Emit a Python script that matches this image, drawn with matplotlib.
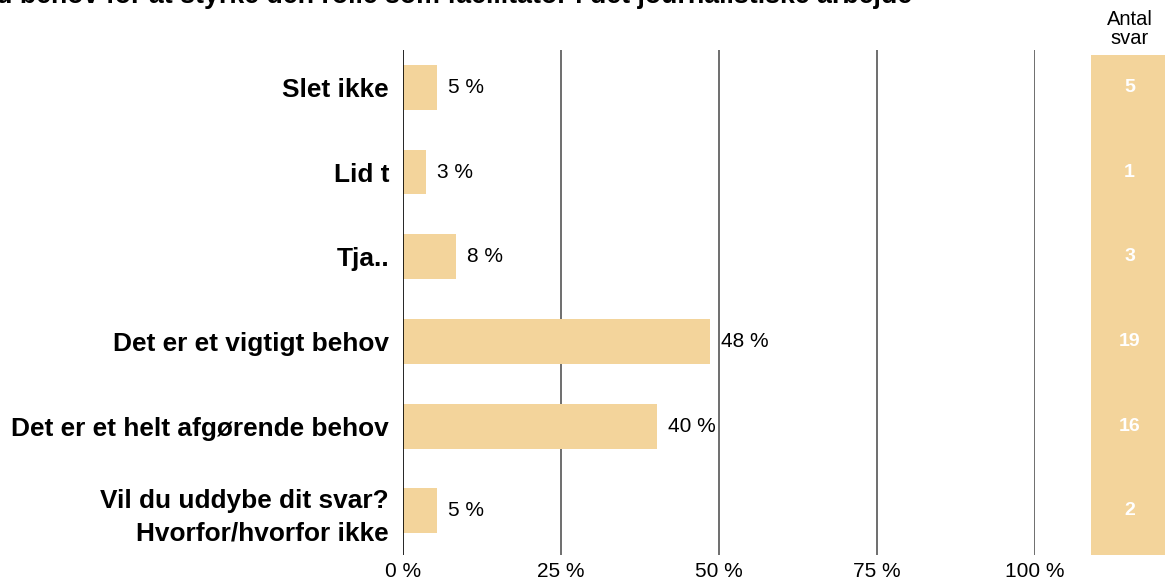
import matplotlib
matplotlib.use("Agg")
import matplotlib.pyplot as plt
from matplotlib.patches import Rectangle

categories = ["Slet ikke", "Lid t", "Tja..", "Det er et vigtigt behov",
              "Det er et helt afgørende behov",
              "Vil du uddybe dit svar?\nHvorfor/hvorfor ikke"]
values = [5.4, 3.6, 8.4, 48.6, 40.2, 5.4]
value_labels = ["5 %", "3 %", "8 %", "48 %", "40 %", "5 %"]
counts = [5, 1, 3, 19, 16, 2]
xticks = [0, 25, 50, 75, 100]
xticklabels = ["0 %", "25 %", "50 %", "75 %", "100 %"]
title = "d behov for at styrke den rolle som facilitator i det journalistiske arbejde"

W, H = 1165, 581
fig = plt.figure(figsize=(W / 100, H / 100), dpi=100)
plt.rcParams['font.family'] = ['Liberation Sans', 'DejaVu Sans']

bar_color = "#F3D49B"

def fx(px):
    return px / W

def fy(py):
    return 1 - py / H

ax_left, ax_right, ax_top, ax_bot = 403, 1035, 50, 555
ax = fig.add_axes([fx(ax_left), fy(ax_bot), fx(ax_right - ax_left), (ax_bot - ax_top) / H])
y = list(range(len(categories)))
ax.barh(y, values, height=0.53, color=bar_color, zorder=2)
ax.set_xlim(0, 100)
ax.set_ylim(5.52, -0.44)
for s in ax.spines.values():
    s.set_visible(False)
ax.axvline(0, color="black", lw=1.2, zorder=3)
for t in xticks[1:]:
    ax.axvline(t, color="#6e6e6e", lw=1.4, zorder=1)
ax.set_xticks(xticks)
ax.set_xticklabels(xticklabels, fontsize=15)
ax.tick_params(axis='x', length=0, pad=5)
ax.set_yticks(y)
ax.set_yticklabels(categories, fontsize=18.9, fontweight='bold', linespacing=1.4)
ax.tick_params(axis='y', length=0, pad=10)
for yi, v, lab in zip(y, values, value_labels):
    ax.annotate(lab, (v, yi), xytext=(8, 0), textcoords='offset points',
                va='center', ha='left', fontsize=15, zorder=4)

# Antal svar panel
ax2 = fig.add_axes([fx(1091), fy(ax_bot), fx(1165 - 1091), (ax_bot - ax_top) / H], sharey=ax)
ax2.set_xlim(0, 1)
ax2.axis('off')
ax2.add_patch(Rectangle((0, 0), 1, (ax_bot - 55) / (ax_bot - ax_top),
                        transform=ax2.transAxes, color=bar_color, lw=0))
for yi, c in zip(y, counts):
    ax2.text(0.52, yi, str(c), ha='center', va='center', color='white',
             fontsize=14, fontweight='bold')
fig.text(fx(1130), fy(29), "Antal\nsvar", ha='center', va='center', fontsize=14.5,
         linespacing=0.95)

fig.text(fx(-4), fy(3), title, ha='left', va='baseline', fontsize=19.3, fontweight='bold')

fig.savefig("out.png", dpi=100)
